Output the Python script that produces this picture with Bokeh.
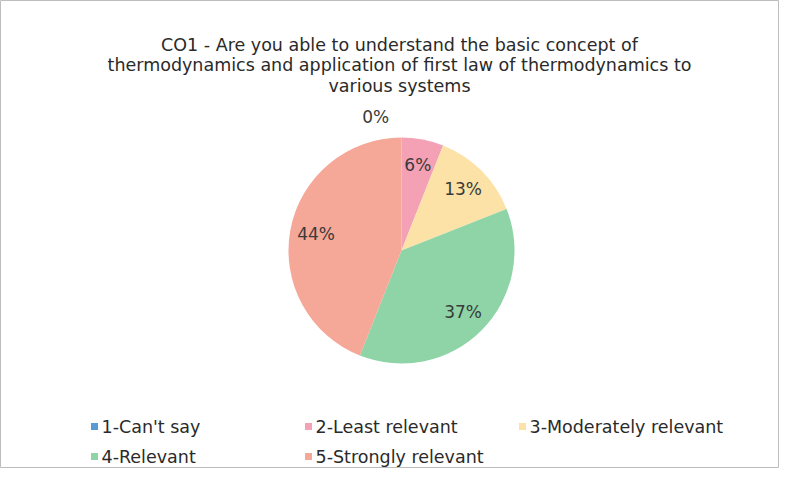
import math
from bokeh.plotting import figure
from bokeh.models import Range1d, ColumnDataSource
from bokeh.core.properties import value
from bokeh.embed import file_html
from bokeh.resources import INLINE

# ---- data ----
categories = ["1-Can't say", "2-Least relevant", "3-Moderately relevant", "4-Relevant", "5-Strongly relevant"]
percents = [0, 6, 13, 37, 44]
colors = ["#5B9BD5", "#F4A0B5", "#FCE2A6", "#8ED4A7", "#F5A898"]
title_lines = [
    "CO1 - Are you able to understand the basic concept of",
    "thermodynamics and application of first law of thermodynamics to",
    "various systems",
]

# ---- layout (figure pixel coordinates, y up) ----
W, H = 779, 468
CX, CY, R = 401, 218, 113
FONT = "DejaVu Sans"

p = figure(width=W, height=H, output_backend="svg", toolbar_location=None,
           x_range=Range1d(0, W), y_range=Range1d(0, H), min_border=0,
           background_fill_color="white", border_fill_color="white")
p.axis.visible = False
p.grid.visible = False
p.outline_line_color = "#BDBDBD"
p.outline_line_width = 1

total = float(sum(percents))
starts, ends, wcols, mids = [], [], [], []
cum = 0.0
for v, c in zip(percents, colors):
    a0 = math.pi / 2 - 2 * math.pi * cum / total
    cum += v
    a1 = math.pi / 2 - 2 * math.pi * cum / total
    mids.append((a0 + a1) / 2)
    if v > 0:
        starts.append(a0)
        ends.append(a1)
        wcols.append(c)

src = ColumnDataSource(dict(start=starts, end=ends, color=wcols))
p.wedge(x=CX, y=CY, radius=R, start_angle="start", end_angle="end",
        direction="clock", fill_color="color", line_color=None, source=src)

# percentage labels
lx, ly, lt = [], [], []
for v, m in zip(percents, mids):
    if v == 0:
        ang = m + math.radians(11)
        rr = R * 1.2
    else:
        ang = m
        rr = R * 0.77
    lx.append(CX + rr * math.cos(ang))
    ly.append(CY + rr * math.sin(ang))
    lt.append(f"{v}%")
p.text(x=lx, y=ly, text=lt, text_align="center", text_baseline="middle",
       text_font=value(FONT), text_font_size="17px", text_color="#3A3A3A")

# title
ty = [H - 44 - 20.5 * i for i in range(len(title_lines))]
p.text(x=[399] * len(title_lines), y=ty, text=title_lines, text_align="center",
       text_baseline="middle", text_font=value(FONT), text_font_size="17.5px",
       text_color="#2A2A2A")

# legend (3 columns grid)
LX0, LDX = 94, 214
LY0, LDY = 42, 30
sx, sy, tx = [], [], []
for i in range(len(categories)):
    col, row = i % 3, i // 3
    sx.append(LX0 + col * LDX)
    sy.append(LY0 - row * LDY)
    tx.append(LX0 + col * LDX + 7)
p.scatter(x=sx, y=sy, marker="square", size=7, fill_color=colors, line_color=None)
p.text(x=tx, y=sy, text=categories, text_align="left", text_baseline="middle",
       text_font=value(FONT), text_font_size="17.5px", text_color="#2A2A2A")

open("out.html", "w").write(file_html(p, INLINE))
